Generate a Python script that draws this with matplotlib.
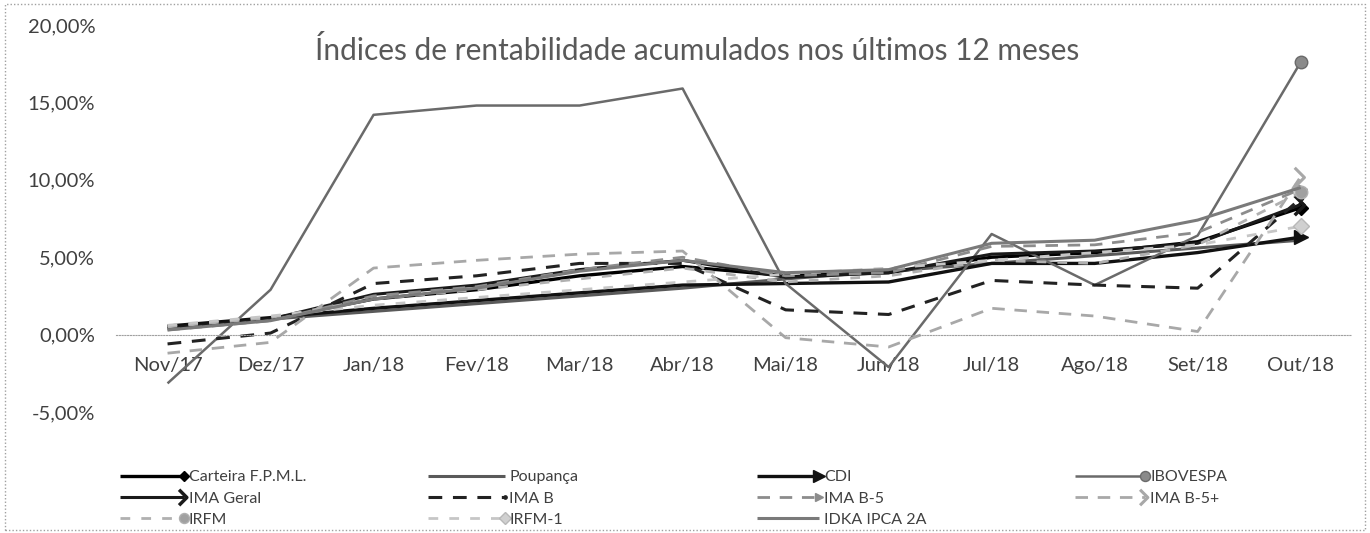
import matplotlib
matplotlib.use('Agg')
import matplotlib.pyplot as plt
from matplotlib.legend_handler import HandlerLine2D
from matplotlib.lines import Line2D
from matplotlib.patches import Rectangle
from matplotlib.path import Path
from matplotlib.ticker import FuncFormatter

plt.rcParams['font.family'] = ['Lato', 'DejaVu Sans']

meses = ['Nov/17', 'Dez/17', 'Jan/18', 'Fev/18', 'Mar/18', 'Abr/18',
         'Mai/18', 'Jun/18', 'Jul/18', 'Ago/18', 'Set/18', 'Out/18']

# valores acumulados em %
carteira = [0.5, 1.0, 2.3, 2.9, 3.8, 4.4, 3.8, 4.0, 5.0, 5.3, 6.0, 8.2]
poupanca = [0.5, 1.0, 1.5, 2.0, 2.5, 3.0, 3.6, 4.1, 4.6, 5.1, 5.6, 6.1]
cdi = [0.55, 1.1, 1.7, 2.2, 2.7, 3.2, 3.3, 3.4, 4.6, 4.6, 5.3, 6.3]
ibovespa = [-3.15, 2.9, 14.2, 14.8, 14.8, 15.9, 3.3, -2.1, 6.5, 3.2, 6.4, 17.6]
ima_geral = [0.4, 1.0, 2.6, 3.2, 4.2, 4.8, 3.7, 4.0, 5.2, 5.4, 5.9, 8.4]
ima_b = [-0.6, 0.1, 3.3, 3.8, 4.6, 4.6, 1.6, 1.3, 3.5, 3.2, 3.0, 8.8]
ima_b5 = [0.3, 0.9, 2.5, 3.1, 4.2, 5.0, 3.8, 4.0, 5.7, 5.8, 6.6, 9.4]
ima_b5_mais = [-1.2, -0.5, 4.3, 4.8, 5.2, 5.4, -0.2, -0.8, 1.7, 1.2, 0.2, 10.2]
irfm = [0.5, 1.1, 2.3, 2.9, 3.6, 4.3, 3.4, 3.8, 4.8, 4.6, 5.8, 9.2]
irfm1 = [0.6, 1.2, 1.9, 2.4, 2.9, 3.4, 3.9, 4.3, 4.8, 5.3, 5.8, 7.0]
idka = [0.3, 0.9, 2.3, 3.0, 4.1, 4.8, 4.0, 4.2, 5.9, 6.1, 7.4, 9.5]

chevron = Path([(-0.7, 1.0), (0.3, 0.0), (-0.7, -1.0)],
               [Path.MOVETO, Path.LINETO, Path.LINETO])

series = [
    ('Carteira F.P.M.L.', carteira, dict(color='#000000', lw=2.4, marker='D', ms=7)),
    ('Poupança', poupanca, dict(color='#5a5a5a', lw=2.2)),
    ('CDI', cdi, dict(color='#111111', lw=2.4, marker='>', ms=10)),
    ('IBOVESPA', ibovespa, dict(color='#6a6a6a', lw=1.8, marker='o', ms=9, mfc='#8a8a8a', mec='#6a6a6a')),
    ('IMA Geral', ima_geral, dict(color='#1a1a1a', lw=2.2, marker=chevron, ms=14, mfc='none', mew=2.5)),
    ('IMA B', ima_b, dict(color='#222222', lw=2.2, ls=(0, (4.5, 3.5)), marker='o', ms=3)),
    ('IMA B-5', ima_b5, dict(color='#8c8c8c', lw=2.0, ls=(0, (4.5, 3.5)), marker='>', ms=8)),
    ('IMA B-5+', ima_b5_mais, dict(color='#a8a8a8', lw=2.0, ls=(0, (4.5, 3.5)), marker=chevron, ms=14, mfc='none', mew=2.2)),
    ('IRFM', irfm, dict(color='#b0b0b0', lw=2.0, ls=(0, (3.5, 4)), marker='o', ms=9, mfc='#a0a0a0', mec='#b0b0b0')),
    ('IRFM-1', irfm1, dict(color='#c6c6c6', lw=2.0, ls=(0, (3.5, 4)), marker='D', ms=8, mfc='#d0d0d0', mec='#b8b8b8')),
    ('IDKA IPCA 2A', idka, dict(color='#7a7a7a', lw=2.2)),
]


class EndMarker(HandlerLine2D):
    # marcador na ponta direita da linha, como no Excel
    def create_artists(self, legend, orig_handle, xdescent, ydescent,
                       width, height, fontsize, trans):
        y = (height - ydescent) / 2
        line = Line2D([-xdescent, -xdescent + width], [y, y])
        line.update_from(orig_handle)
        line.set_markevery([1])
        line.set_markersize(orig_handle.get_markersize() * 0.8)
        line.set_clip_box(None)
        line.set_clip_on(False)
        line.set_transform(trans)
        return [line]


fig = plt.figure(figsize=(13.7, 5.33), dpi=100)
ax = fig.add_axes([0.0847, 0.227, 0.9023, 0.726])

x = list(range(len(meses)))
handles = {}
for nome, vals, st in series:
    ln, = ax.plot(x, vals, label=nome, markevery=[len(vals) - 1],
                  solid_capstyle='butt', **st)
    handles[nome] = ln

ax.set_xlim(-0.5, len(meses) - 0.5)
ax.set_ylim(-5, 20)
ax.set_yticks([-5, 0, 5, 10, 15, 20])
ax.yaxis.set_major_formatter(FuncFormatter(lambda v, p: f'{v:.2f}%'.replace('.', ',')))
ax.set_xticks(x)
ax.set_xticklabels(meses)
ax.tick_params(axis='both', length=0, labelsize=14.5, labelcolor='#404040')
ax.tick_params(axis='y', pad=15)
ax.tick_params(axis='x', pad=16)

for s in ['top', 'right', 'left']:
    ax.spines[s].set_visible(False)
ax.spines['bottom'].set_position(('data', 0))
ax.spines['bottom'].set_linestyle((0, (1, 1.5)))
ax.spines['bottom'].set_color('#a0a0a0')
ax.patch.set_alpha(0)

fig.text(0.509, 0.906, 'Índices de rentabilidade acumulados nos últimos 12 meses',
         ha='center', va='center', fontsize=21.5, color='#595959')

colunas = [
    (['Carteira F.P.M.L.', 'IMA Geral', 'IRFM'], 120, 4.0),
    (['Poupança', 'IMA B', 'IRFM-1'], 428, 4.8),
    (['CDI', 'IMA B-5', 'IDKA IPCA 2A'], 757, 3.9),
    (['IBOVESPA', 'IMA B-5+'], 1075, 4.4),
]
for nomes, px, hl in colunas:
    leg = fig.legend(handles=[handles[n] for n in nomes], labels=nomes,
                     loc='upper left', bbox_to_anchor=(px / 1370, 1 - 470 / 533),
                     frameon=False, fontsize=11.5, borderpad=0, borderaxespad=0,
                     handlelength=hl, handletextpad=0.3, labelspacing=0.45,
                     handler_map={Line2D: EndMarker()})
    for t in leg.get_texts():
        t.set_color('#404040')

fig.add_artist(Rectangle((0.004, 0.006), 0.992, 0.986, transform=fig.transFigure,
                         fill=False, ls=(0, (1, 1.5)), ec='#a0a0a0', lw=1))

fig.savefig('out.png', dpi=100)
